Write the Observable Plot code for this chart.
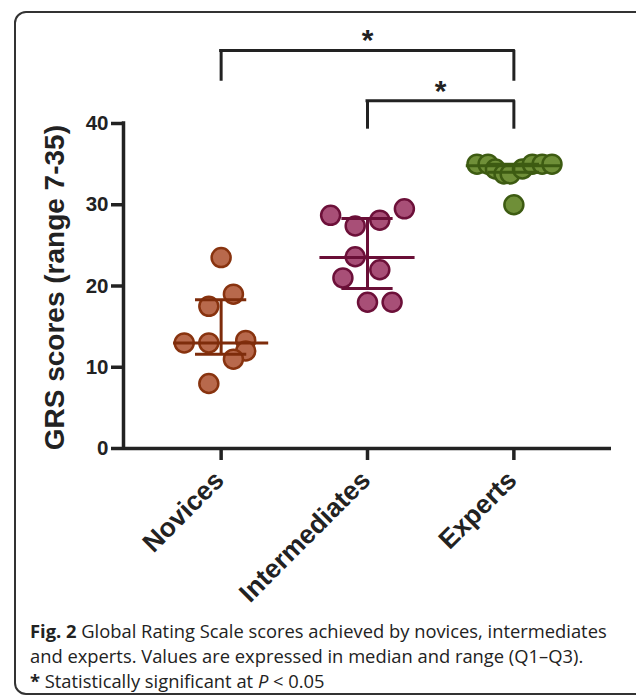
<!DOCTYPE html>
<html>
<head>
<meta charset="utf-8">
<script src="https://cdn.jsdelivr.net/npm/d3@7"></script>
<script src="https://cdn.jsdelivr.net/npm/@observablehq/plot@0.6"></script>
<style>
  html, body { margin: 0; padding: 0; background: #fff; }
  #page { position: relative; width: 636px; height: 699px; overflow: hidden; }
  #frame { position: absolute; left: 14px; top: 11px; width: 640px; height: 684px;
           border: 2px solid #333; border-radius: 12px; box-sizing: border-box; }
  #chart { position: absolute; left: 0; top: 0; }
  #caption { position: absolute; left: 30px; top: 618px; width: 606px; white-space: nowrap;
             font-family: "Open Sans", sans-serif; font-size: 18.35px; line-height: 25px; color: #222; }
</style>
</head>
<body>
<div id="page">
  <div id="frame"></div>
  <div id="chart"></div>
  <div id="caption"><b>Fig. 2</b> Global Rating Scale scores achieved by novices, intermediates<br>and experts. Values are expressed in median and range (Q1–Q3).<br><b>*</b> Statistically significant at <i>P</i> &lt; 0.05</div>
</div>
<script>
// ---- data ----
const groups = ["Novices", "Intermediates", "Experts"];
const novices = [23.5, 19.0, 17.5, 13.0, 13.0, 13.3, 12.0, 11.0, 8.0];
const novicesSlot = [0, 1, -1, -3, -1, 2, 2, 1, -1];
const intermediates = [28.7, 27.4, 28.1, 29.5, 23.6, 22.0, 21.0, 18.0, 18.0];
const intermediatesSlot = [-3, -1, 1, 3, -1, 1, -2, 0, 2];
const experts = [35.0, 35.0, 34.4, 33.8, 33.8, 34.4, 35.0, 35.0, 35.0, 30.0];
const expertsSlot = [-3, -2.1, -1.5, -0.8, -0.3, 0.7, 1.5, 2.3, 3.1, 0];
const medians = [13.0, 23.5, 34.8];
const q1 = [11.6, 19.7, 34.0];
const q3 = [18.3, 28.3, 35.0];
const yTicks = [0, 10, 20, 30, 40];
const yLabel = "GRS scores (range 7-35)";
// significance comparisons
const comparisons = [
  {from: 0, to: 2, top: 49.0, bottom: 45.2, label: "*"},
  {from: 1, to: 2, top: 42.8, bottom: 39.3, label: "*"}
];

// ---- styles ----
const fills = ["#b8694c", "#a84f77", "#6f8f38"];
const strokes = ["#88330f", "#6c1039", "#3d5b12"];
const lineColors = ["#7e2c0b", "#6a0f37", "#3d5b12"];
const slotW = 0.084;   // jitter step in category units
const medHalf = 0.325, qHalf = 0.175;

const points = [];
[[novices, novicesSlot], [intermediates, intermediatesSlot], [experts, expertsSlot]].forEach(([vals, slots], g) => {
  vals.forEach((v, i) => points.push({g, x: g + slots[i] * slotW, y: v}));
});
const summary = groups.map((name, g) => ({g, name, med: medians[g], q1: q1[g], q3: q3[g]}));

const xMin = -0.667, xMax = 2.667;
const brackets = comparisons.map(c => ({x1: c.from, x2: c.to, y: c.top}));
const drops = [];
comparisons.forEach(c => {
  drops.push({x: c.from, y1: c.bottom, y2: c.top});
  drops.push({x: c.to, y1: c.bottom, y2: c.top});
});

const plot = Plot.plot({
  width: 636,
  height: 600,
  marginLeft: 123,
  marginRight: 25,
  marginTop: 123,
  marginBottom: 152,
  x: {type: "linear", domain: [xMin, xMax], axis: null},
  y: {type: "linear", domain: [0, 40], axis: null},
  style: {fontFamily: "'Liberation Sans', Arial, Helvetica, sans-serif", overflow: "visible"},
  marks: [
    // y axis
    Plot.axisY({ticks: yTicks, tickSize: 12, strokeWidth: 3.5, stroke: "#222", tickPadding: 3,
      fontSize: 20.5, fontWeight: "bold", fill: "#222", label: null}),
    // x axis ticks
    Plot.axisX({ticks: [0, 1, 2], tickSize: 12, strokeWidth: 3.5, stroke: "#222", tickFormat: () => "", label: null}),
    // axes lines
    Plot.ruleX([xMin], {y1: 0, y2: 40, stroke: "#222", strokeWidth: 3.5, strokeLinecap: "square"}),
    Plot.ruleY([0], {x1: xMin, x2: xMax, stroke: "#222", strokeWidth: 3.5}),
    // x labels
    Plot.text(groups, {x: (d, i) => i, y: 0, text: d => d, rotate: -45, textAnchor: "end",
      lineAnchor: "top", dx: -9, dy: 20, fontSize: 26.5, fontWeight: "bold", fill: "#222"}),
    // y label
    Plot.text([yLabel], {x: xMin, y: 19.8, text: d => d, rotate: -90, dx: -68,
      fontSize: 28, fontWeight: "bold", fill: "#222"}),
    // points
    Plot.dot(points, {x: "x", y: "y", r: 9.5, fill: d => fills[d.g], stroke: d => strokes[d.g], strokeWidth: 2.5}),
    // median and quartile lines
    Plot.ruleY(summary, {y: "med", x1: d => d.g - medHalf, x2: d => d.g + medHalf, stroke: d => lineColors[d.g], strokeWidth: 3}),
    Plot.ruleY(summary, {y: "q1", x1: d => d.g - qHalf, x2: d => d.g + qHalf, stroke: d => lineColors[d.g], strokeWidth: 3}),
    Plot.ruleY(summary, {y: "q3", x1: d => d.g - qHalf, x2: d => d.g + qHalf, stroke: d => lineColors[d.g], strokeWidth: 3}),
    Plot.ruleX(summary, {x: "g", y1: "q1", y2: "q3", stroke: d => lineColors[d.g], strokeWidth: 3}),
    // significance brackets
    Plot.ruleY(brackets, {y: "y", x1: "x1", x2: "x2", stroke: "#222", strokeWidth: 3, strokeLinecap: "square"}),
    Plot.ruleX(drops, {x: "x", y1: "y1", y2: "y2", stroke: "#222", strokeWidth: 3}),
    Plot.text(comparisons, {x: d => (d.from + d.to) / 2, y: "top", text: "label", dy: 0, lineAnchor: "bottom",
      fontSize: 30, fontWeight: "bold", fill: "#222"})
  ]
});
document.getElementById("chart").appendChild(plot);
</script>
</body>
</html>
